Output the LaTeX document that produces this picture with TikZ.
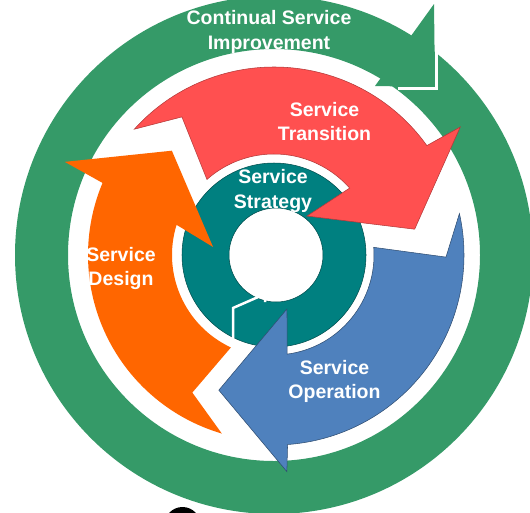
\documentclass[tikz,border=0pt]{standalone}
\usepackage{fontspec}
\setmainfont{Liberation Sans}
\usepackage{tikz}
\definecolor{csigreen}{RGB}{53,154,104}
\definecolor{ssteal}{RGB}{0,128,128}
\definecolor{stred}{RGB}{255,80,80}
\definecolor{sdorange}{RGB}{255,102,0}
\definecolor{soblue}{RGB}{79,129,189}

\begin{document}
\begin{tikzpicture}[x=0.02cm, y=0.02cm,
    phase/.style={text=white, align=center,
        font=\fontsize{11.1}{14}\selectfont\bfseries},
    cut/.style={white, line width=0.05cm, line join=miter}]
    \useasboundingbox (0,0) rectangle (530,512);
    \clip (0,0) rectangle (530,512);

    \begin{scope}[shift={(274,257)}]
    % outer ring with its head
    \fill[csigreen, even odd rule] (0,0) circle (259) (0,0) circle (206);
    \fill[csigreen] (160,251) -- (101,169) -- (161,168) -- cycle;
    \draw[cut, line width=0.06cm] (162,256) -- (162,167) -- (124,167);

    % strategy ring
    \fill[ssteal, even odd rule, draw=ssteal!60!black, line width=0.3pt]
        (0,0) circle (92) (2,0) circle (47);
    \draw[cut] (-9,-47) -- (-9,-39) -- (-41,-53) -- (-41,-91);

    % transition arrow
    \filldraw[fill=stred, draw=stred!70!black, line width=0.3pt]
        (138:188) arc[start angle=138, end angle=35.6, radius=188]
        -- (34.5:226) -- (10.4:143) -- (49.8:51) -- (41.5:101)
        arc[start angle=41.5, end angle=131.6, radius=101]
        -- (123.7:166) -- cycle;

    % design arrow
    \fill[sdorange]
        (253.7:186) arc[start angle=253.7, end angle=157.2, radius=186]
        -- (156:229) -- (134.4:146) -- (172.5:61.5) -- (162.8:102)
        arc[start angle=162.8, end angle=245, radius=102]
        -- (239.3:160) -- cycle;

    % operation arrow
    \filldraw[fill=soblue, draw=soblue!60!black, line width=0.3pt]
        (12.6:190) arc[start angle=12.6, end angle=-85.9, radius=190]
        -- (-86.6:217) -- (-112.2:146) -- (-76.5:55.5) -- (-82.4:100)
        arc[start angle=-82.4, end angle=4.4, radius=100]
        -- (-0.7:172) -- cycle;

    \fill[black] (-91.5,-270) circle (18);

    \foreach \n/\x/\y/\m in {
        csi/-5/223/{Continual Service\\Improvement},
        st/50.5/133.5/{Service\\Transition},
        ss/-1/64/{Service\\Strategy},
        sd/-153/-13.5/{Service\\Design},
        so/60.5/-126.5/{Service\\Operation}}
        \node[phase] (\n) at (\x,\y) {\m};
    \end{scope}
\end{tikzpicture}
\end{document}
